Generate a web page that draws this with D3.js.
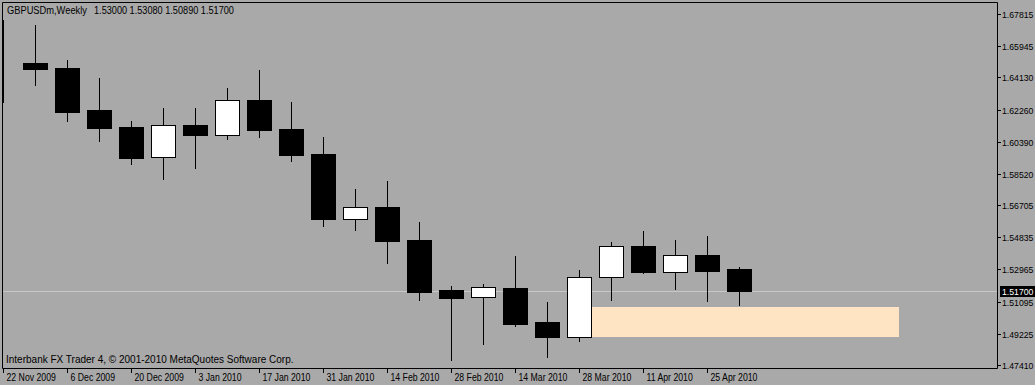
<!DOCTYPE html>
<html><head><meta charset="utf-8">
<script src="https://cdn.jsdelivr.net/npm/d3@7"></script>
<style>
html,body{margin:0;padding:0;background:#A9A9A9;overflow:hidden;}
svg{display:block;}
text{font-family:"Liberation Sans",Arial,sans-serif;font-size:10px;fill:#000;}
text.ylab{font-size:8.7px;}
</style></head>
<body>
<svg id="c" width="1035" height="385"></svg>
<script>
// ---- data ----
const symbol = "GBPUSDm,Weekly";
const dates = ["22 Nov 2009","29 Nov 2009","6 Dec 2009","13 Dec 2009","20 Dec 2009","27 Dec 2009","3 Jan 2010","10 Jan 2010","17 Jan 2010","24 Jan 2010","31 Jan 2010","7 Feb 2010","14 Feb 2010","21 Feb 2010","28 Feb 2010","7 Mar 2010","14 Mar 2010","21 Mar 2010","28 Mar 2010","4 Apr 2010","11 Apr 2010","18 Apr 2010","25 Apr 2010","2 May 2010"];
const open  = [1.6497,1.6497,1.6468,1.6223,1.6125,1.5948,1.6136,1.6080,1.6282,1.6115,1.5968,1.5592,1.5660,1.5469,1.5177,1.5138,1.5190,1.4991,1.4906,1.5251,1.5433,1.5280,1.5381,1.5300];
const high  = [1.6747,1.6718,1.6514,1.6409,1.6160,1.6235,1.6235,1.6351,1.6456,1.6270,1.6067,1.5764,1.5812,1.5574,1.5202,1.5212,1.5376,1.5107,1.5293,1.5456,1.5520,1.5468,1.5491,1.5308];
const low   = [1.6270,1.6371,1.6161,1.6045,1.5911,1.5824,1.5888,1.6057,1.6068,1.5929,1.5551,1.5528,1.5334,1.5121,1.4770,1.4865,1.4970,1.4789,1.4882,1.5121,1.5278,1.5185,1.5115,1.5089];
const close = [1.6497,1.6464,1.6214,1.6121,1.5946,1.6135,1.6080,1.6282,1.6109,1.5962,1.5592,1.5660,1.5464,1.5165,1.5132,1.5194,1.4981,1.4906,1.5253,1.5433,1.5283,1.5381,1.5289,1.5170];
const xTickLabels = ["22 Nov 2009","6 Dec 2009","20 Dec 2009","3 Jan 2010","17 Jan 2010","31 Jan 2010","14 Feb 2010","28 Feb 2010","14 Mar 2010","28 Mar 2010","11 Apr 2010","25 Apr 2010"];
const yTicks = [1.67815,1.65945,1.64130,1.62260,1.60390,1.58520,1.56705,1.54835,1.52965,1.51095,1.49225,1.47410];
const lastPrice = 1.51700;
const zoneBars = [18.39, 27.99];      // rectangle object: bar positions
const zonePrices = [1.4906, 1.5078];  // rectangle object: price range
const copyright = "Interbank FX Trader 4, \u00A9 2001-2010 MetaQuotes Software Corp.";

// ---- layout ----
const svg = d3.select("#c");
const L = 2, T = 2, R = 997, B = 368;
const x = d3.scaleLinear().domain([0, 30]).range([3.3, 3.3 + 32 * 30]);
const y = d3.scaleLinear().domain([1.47410, 1.67815]).range([365, 14]);
const px = v => Math.round(v) + 0.5;

// horizontal compression to mimic the narrow-digit terminal font
function squeeze(f){
  return sel => sel.each(function(){
    const w = this.getComputedTextLength();
    this.setAttribute("textLength", (w * f).toFixed(2));
    this.setAttribute("lengthAdjust", "spacingAndGlyphs");
  });
}

svg.append("rect").attr("width",1035).attr("height",385).attr("fill","#A9A9A9");

svg.append("clipPath").attr("id","plot").append("rect")
  .attr("x",L+0.5).attr("y",T+0.5).attr("width",R-L-0.5).attr("height",B-T-0.5);
const g = svg.append("g").attr("clip-path","url(#plot)");

// rectangle object
g.append("rect")
  .attr("x", Math.round(x(zoneBars[0])))
  .attr("width", Math.round(x(zoneBars[1])) - Math.round(x(zoneBars[0])))
  .attr("y", Math.round(y(zonePrices[1])))
  .attr("height", Math.round(y(zonePrices[0])) - Math.round(y(zonePrices[1])))
  .attr("fill","#FFE4C4");

// current price line
g.append("line").attr("x1",L).attr("x2",R)
  .attr("y1",px(y(lastPrice))).attr("y2",px(y(lastPrice)))
  .attr("stroke","#C8C8C8").attr("stroke-width",1);

// candles
const bars = dates.map((d,i)=>({i, o:open[i], h:high[i], l:low[i], c:close[i]}));
const cg = g.selectAll("g.bar").data(bars).join("g").attr("class","bar");
cg.append("line")
  .attr("x1",d=>px(x(d.i))).attr("x2",d=>px(x(d.i)))
  .attr("y1",d=>Math.round(y(d.h))).attr("y2",d=>Math.round(y(d.l))+1)
  .attr("stroke","#000").attr("stroke-width",1);
cg.append("rect")
  .attr("x",d=>Math.round(x(d.i))-12+0.5)
  .attr("width",24)
  .attr("y",d=>px(y(Math.max(d.o,d.c))))
  .attr("height",d=>Math.max(0, Math.round(y(Math.min(d.o,d.c))) - Math.round(y(Math.max(d.o,d.c)))))
  .attr("fill",d=>d.c>d.o ? "#FFFFFF" : "#000000")
  .attr("stroke","#000").attr("stroke-width",1);

// frame
svg.append("path")
  .attr("d",`M${L+0.5},${T+0.5}H${R+0.5}V${B+0.5}H${L+0.5}Z`)
  .attr("fill","none").attr("stroke","#000").attr("stroke-width",1);

// y axis
const ya = svg.append("g");
yTicks.forEach(v=>{
  const yy = px(y(v));
  ya.append("line").attr("x1",R).attr("x2",R+4).attr("y1",yy).attr("y2",yy).attr("stroke","#000");
  ya.append("text").attr("class","ylab").attr("x",R+5).attr("y",yy+3.5).text(v.toFixed(5));
});
// last price label
const ly = px(y(lastPrice));
svg.append("rect").attr("x",R+3).attr("y",ly-5.5).attr("width",1035-R-3).attr("height",11).attr("fill","#000");
svg.append("text").attr("class","ylab").attr("x",R+5).attr("y",ly+3.5).style("fill","#fff")
  .text(lastPrice.toFixed(5));

// x axis
const xa = svg.append("g");
xTickLabels.forEach(lbl=>{
  const i = dates.indexOf(lbl);
  const xx = px(x(i));
  xa.append("line").attr("x1",xx).attr("x2",xx).attr("y1",B).attr("y2",B+5).attr("stroke","#000");
  xa.append("text").attr("x",xx+3).attr("y",381).text(lbl).call(squeeze(0.87));
});

// header
svg.append("text").attr("x",7).attr("y",14).text(symbol).call(squeeze(0.93));
svg.append("text").attr("x",94).attr("y",14)
  .text([open[open.length-1],high[high.length-1],low[low.length-1],close[close.length-1]].map(v=>v.toFixed(5)).join(" "))
  .call(squeeze(0.915));

// copyright
svg.append("text").attr("x",6).attr("y",363).text(copyright).call(squeeze(1.0));
</script>
</body></html>
